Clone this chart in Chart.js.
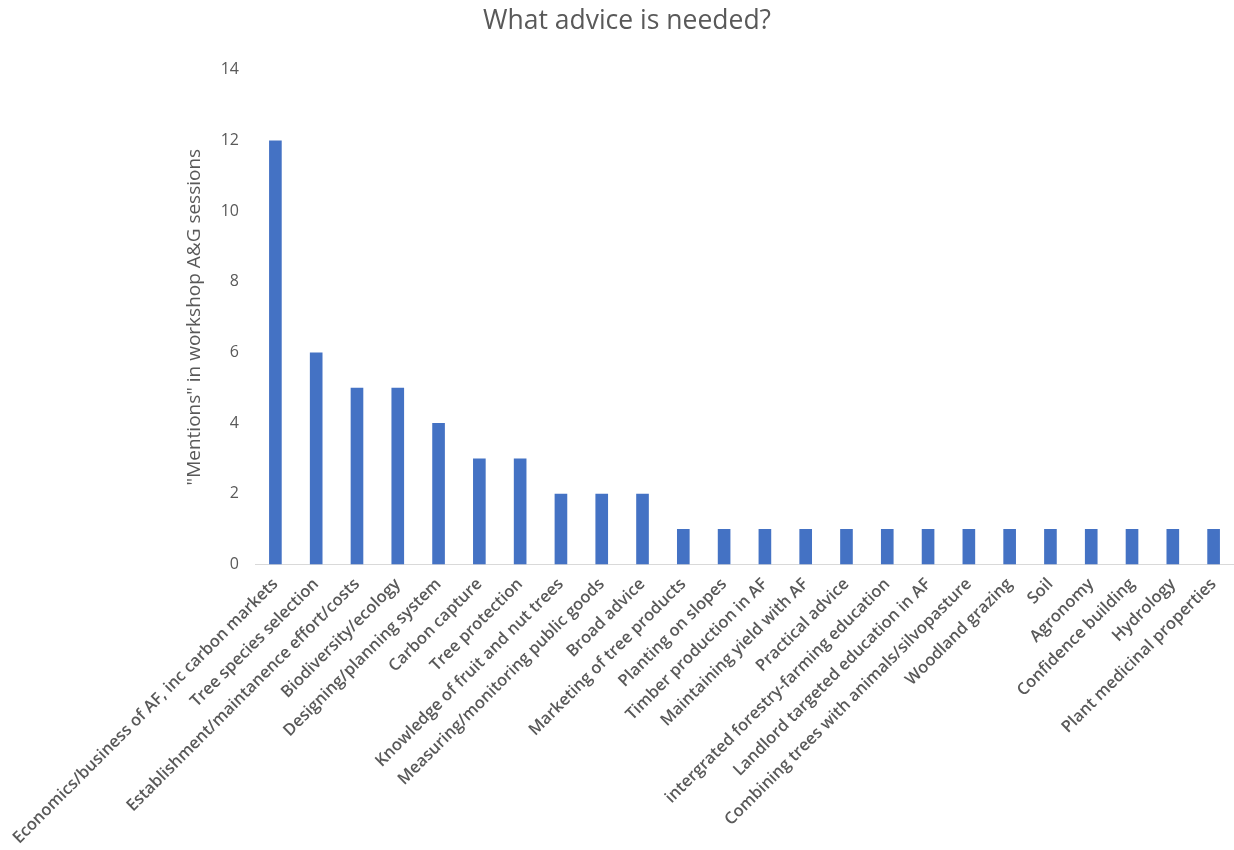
<!DOCTYPE html>
<html>
<head>
<meta charset="utf-8">
<script src="https://cdn.jsdelivr.net/npm/chart.js@4"></script>
<style>
  html, body { margin: 0; padding: 0; background: #fff; }
  #wrap { width: 1234px; height: 850px; }
</style>
</head>
<body>
<div id="wrap"><canvas id="myChart" width="1234" height="850"></canvas></div>
<script>
const categories = [
  'Economics/business of AF, inc carbon markets',
  'Tree species selection',
  'Establishment/maintanence effort/costs',
  'Biodiversity/ecology',
  'Designing/planning system',
  'Carbon capture',
  'Tree protection',
  'Knowledge of fruit and nut trees',
  'Measuring/monitoring public goods',
  'Broad advice',
  'Marketing of tree products',
  'Planting on slopes',
  'Timber production in AF',
  'Maintaining yield with AF',
  'Practical advice',
  'intergrated forestry-farming education',
  'Landlord targeted education in AF',
  'Combining trees with animals/silvopasture',
  'Woodland grazing',
  'Soil',
  'Agronomy',
  'Confidence building',
  'Hydrology',
  'Plant medicinal properties'
];
const mentions = [12, 6, 5, 5, 4, 3, 3, 2, 2, 2, 1, 1, 1, 1, 1, 1, 1, 1, 1, 1, 1, 1, 1, 1];
const yTicks = [0, 2, 4, 6, 8, 10, 12, 14];

const textColor = '#595959';
const font = "'Open Sans', 'Liberation Sans', sans-serif";

const ctx = document.getElementById('myChart');
const myChart = new Chart(ctx, {
  type: 'bar',
  data: {
    labels: categories,
    datasets: [{
      data: mentions,
      backgroundColor: '#4472C4',
      barPercentage: 0.31,
      categoryPercentage: 1
    }]
  },
  options: {
    responsive: false,
    animation: false,
    layout: { padding: { left: 20, right: 0, top: 6, bottom: 0 } },
    plugins: {
      legend: { display: false },
      tooltip: { enabled: false },
      title: {
        display: true,
        text: 'What advice is needed?',
        color: textColor,
        font: { family: font, size: 26.5, weight: 'normal' },
        padding: { top: 0, bottom: 32 }
      }
    },
    scales: {
      x: {
        grid: { display: false },
        border: { display: true, color: '#d9d9d9', width: 1 },
        ticks: {
          color: textColor,
          font: { family: font, size: 16.5, weight: '600' },
          minRotation: 45,
          maxRotation: 45,
          autoSkip: false,
          padding: 2
        }
      },
      y: {
        min: 0,
        max: 14,
        afterBuildTicks: (axis) => { axis.ticks = yTicks.map(v => ({ value: v })); },
        afterFit: (axis) => { axis.width = 235; },
        grid: { display: false },
        border: { display: false },
        ticks: {
          color: textColor,
          font: { family: font, size: 16 },
          padding: 8
        },
        title: {
          display: true,
          text: '"Mentions" in workshop A&G sessions',
          color: textColor,
          font: { family: font, size: 19 },
          padding: { top: 163, bottom: 4 }
        }
      }
    }
  }
});
</script>
</body>
</html>
